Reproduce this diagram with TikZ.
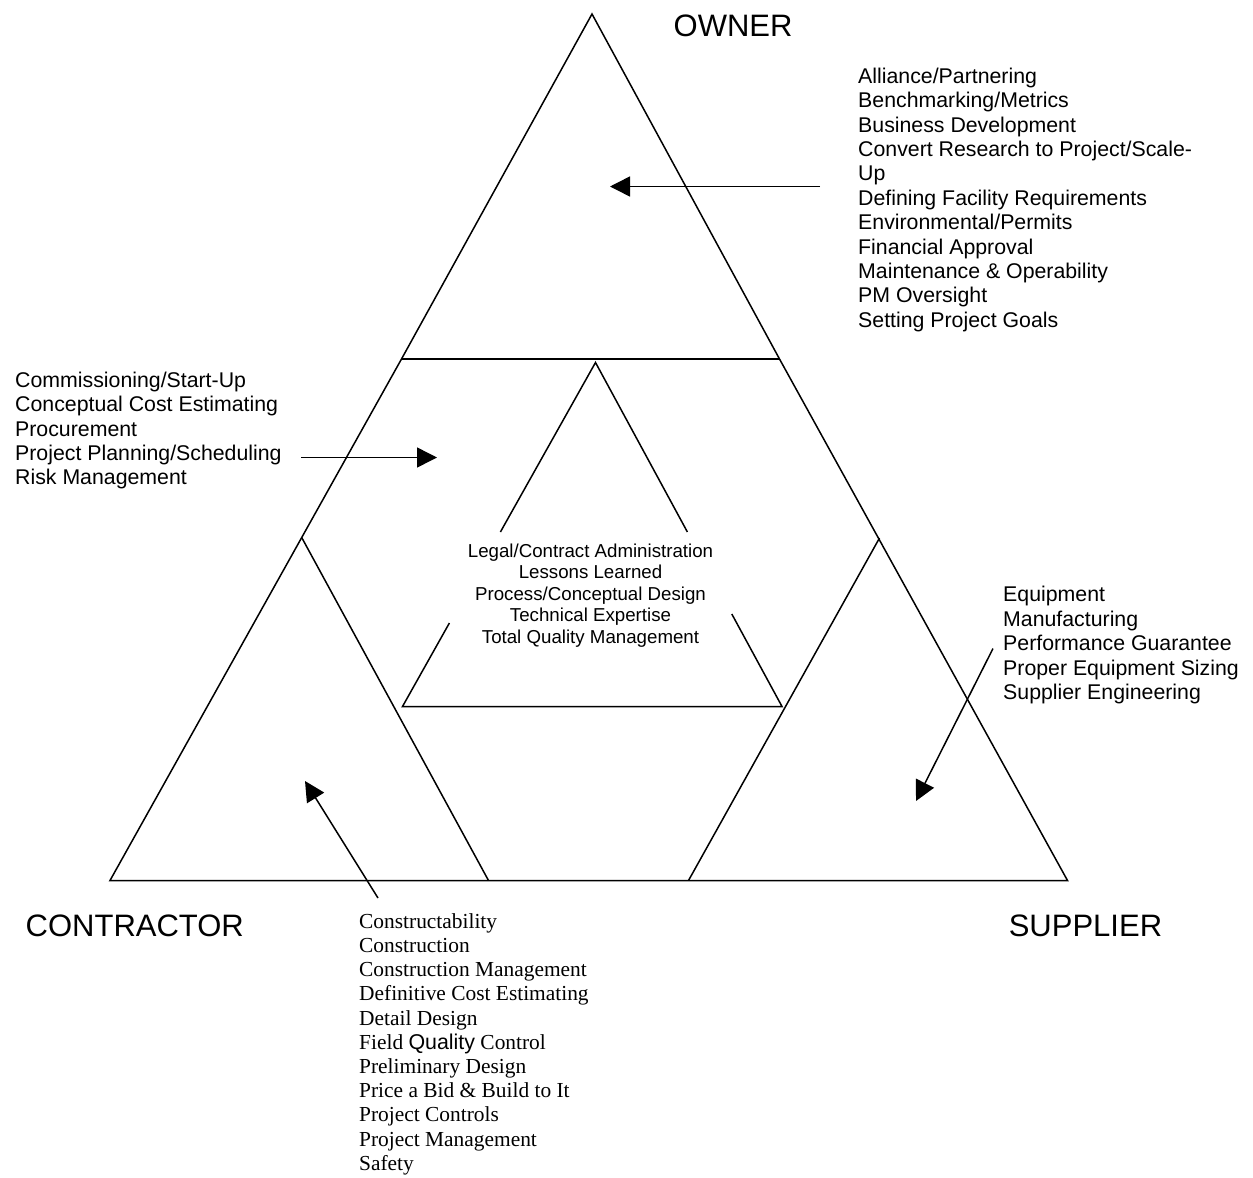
\documentclass[tikz,border=0pt]{standalone}
\usepackage{fontspec}
\setmainfont{Liberation Serif}
\newfontfamily\arialf{Liberation Sans}
\newfontfamily\serf{Liberation Serif}
\usetikzlibrary{arrows.meta}
\begin{document}
\begin{tikzpicture}[x=1pt,y=-1pt,
  edge/.style={line width=1.5pt, line join=miter},
  pointer/.style={line width=1.5pt, -{Triangle[length=20pt,width=20pt]}},
  lst/.style={inner sep=0pt, align=left, anchor=north west, font=\arialf\fontsize{21.3}{24.4}\selectfont},
  midlst/.style={inner sep=0pt, align=center, anchor=north, font=\arialf\fontsize{18.7}{21.5}\selectfont},
  serlst/.style={inner sep=0pt, align=left, anchor=north west, font=\serf\fontsize{21.4}{24.2}\selectfont},
  lbl/.style={inner sep=0pt, anchor=base west, font=\arialf\fontsize{31}{36}\selectfont}]
\useasboundingbox (0,0) rectangle (1253,1178);
% outer triangle
\coordinate (A) at (592,14);
\coordinate (BL) at (110,880.5);
\coordinate (BR) at (1067.5,880.5);
\coordinate (ML) at (401.5,359);
\coordinate (MR) at (779.5,359);
\coordinate (LA) at (301.7,537.5);
\coordinate (LB) at (488.5,880.5);
\coordinate (RA) at (879.5,538);
\coordinate (RB) at (688.5,880.5);
\draw[edge] (A) -- (ML) -- (BL) -- (BR) -- (MR) -- cycle;
\draw[edge] (ML) -- (MR);
\draw[edge] (LA) -- (LB);
\draw[edge] (RA) -- (RB);
% inner triangle (interrupted by text)
\coordinate (IA) at (595.5,362.5);
\coordinate (IL) at (402.5,706.5);
\coordinate (IR) at (782,706.5);
\coordinate (IL1) at (500.4,532);
\coordinate (IL2) at (449.4,623);
\coordinate (IR1) at (687.4,532);
\coordinate (IR2) at (731.8,614);
\draw[edge] (IL1) -- (IA) -- (IR1);
\draw[edge] (IL2) -- (IL) -- (IR) -- (IR2);
% texts
\node[lbl] (owner) at (673.5,36) {OWNER};
\node[lbl] (contractor) at (25.5,936) {CONTRACTOR};
\node[lbl] (supplier) at (1008.6,936) {SUPPLIER};
\node[lst] (ownlist) at (858,67.7) {Alliance/Partnering\\Benchmarking/Metrics\\Business Development\\Convert Research to Project/Scale-\\Up\\Defining Facility Requirements\\Environmental/Permits\\Financial Approval\\Maintenance \& Operability\\PM Oversight\\Setting Project Goals};
\node[lst] (genlist) at (15,371.7) {Commissioning/Start-Up\\Conceptual Cost Estimating\\Procurement\\Project Planning/Scheduling\\Risk Management};
\node[lst] (suplist) at (1003,586.2) {Equipment\\Manufacturing\\Performance Guarantee\\Proper Equipment Sizing\\Supplier Engineering};
\node[midlst] (core) at (590.5,543.5) {Legal/Contract Administration\\Lessons Learned\\Process/Conceptual Design\\Technical Expertise\\Total Quality Management};
\node[serlst] (conlist) at (359,913.2) {Constructability\\Construction\\Construction Management\\Definitive Cost Estimating\\Detail Design\\Field {\arialf Quality} Control\\Preliminary Design\\Price a Bid \& Build to It\\Project Controls\\Project Management\\Safety};
% arrows
\coordinate (oS) at (820,186.5);
\coordinate (oT) at (610,186.5);
\coordinate (gS) at (301,457.5);
\coordinate (gT) at (437,457.5);
\coordinate (sS) at (993,648.5);
\coordinate (sT) at (916,801);
\coordinate (cS) at (378,898);
\coordinate (cT) at (305,781);
\draw[pointer] (oS) -- (oT);
\draw[pointer] (gS) -- (gT);
\draw[pointer] (sS) -- (sT);
\draw[pointer] (cS) -- (cT);
\end{tikzpicture}
\end{document}
